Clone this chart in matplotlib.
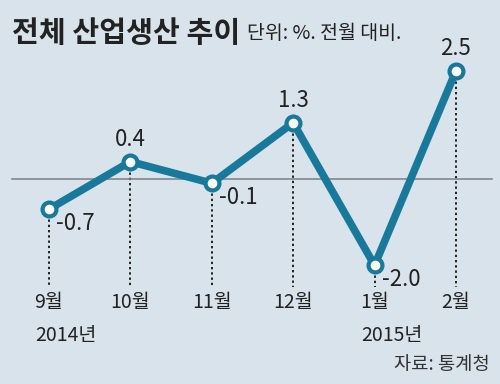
import matplotlib.pyplot as plt

plt.rcParams['font.family'] = ['Noto Sans CJK KR', 'DejaVu Sans']

months = ['9월', '10월', '11월', '12월', '1월', '2월']
years = ['2014년', '', '', '', '2015년', '']
values = [-0.7, 0.4, -0.1, 1.3, -2.0, 2.5]
# label side: 'r' = right-below, 'u' = above
label_pos = ['r', 'u', 'r', 'u', 'r', 'u']

bg = '#d9e3ec'
blue = '#18799b'

fig = plt.figure(figsize=(5, 3.84), dpi=100, facecolor=bg)
ax = fig.add_axes([0, 0, 1, 1])
ax.set_facecolor(bg)
ax.set_xlim(-0.602, 5.541)
ax.set_ylim(-4.745, 4.14)
ax.axis('off')

x = list(range(len(values)))
ax.plot([-0.45, 5.44], [0, 0], color='#7a7f85', lw=1.1, zorder=1)
for xi, v in zip(x, values):
    ax.plot([xi, xi], [v, -2.5], color='#222222', lw=1.4, ls=(0, (1.2, 1.5)), zorder=0)
ax.plot(x, values, color=blue, lw=5.5, marker='o', ms=10, mfc='white',
        mec=blue, mew=3, solid_joinstyle='miter', zorder=3)

for xi, v, p in zip(x, values, label_pos):
    if p == 'u':
        ax.annotate(f'{v:.1f}', (xi, v), xytext=(0, 8), textcoords='offset points',
                    ha='center', va='bottom', fontsize=16, color='#222222')
    else:
        ax.annotate(f'{v:.1f}', (xi, v), xytext=(5, -2), textcoords='offset points',
                    ha='left', va='top', fontsize=16, color='#222222')

for xi, m, yr in zip(x, months, years):
    ax.text(xi, -2.87, m, ha='center', va='center', fontsize=14, color='#222222')
    if yr:
        ax.text(xi - 0.17, -3.63, yr, ha='left', va='center', fontsize=14, color='#222222')

fig.text(0.024, 0.915, '전체 산업생산 추이', fontsize=21, fontweight='bold',
         color='#222222', va='center', ha='left')
fig.text(0.494, 0.912, '단위: %. 전월 대비.', fontsize=14, color='#222222',
         va='center', ha='left')
fig.text(0.98, 0.05, '자료: 통계청', fontsize=13.5, color='#333333', va='center', ha='right')

fig.savefig('out.png', dpi=100, facecolor=bg)
